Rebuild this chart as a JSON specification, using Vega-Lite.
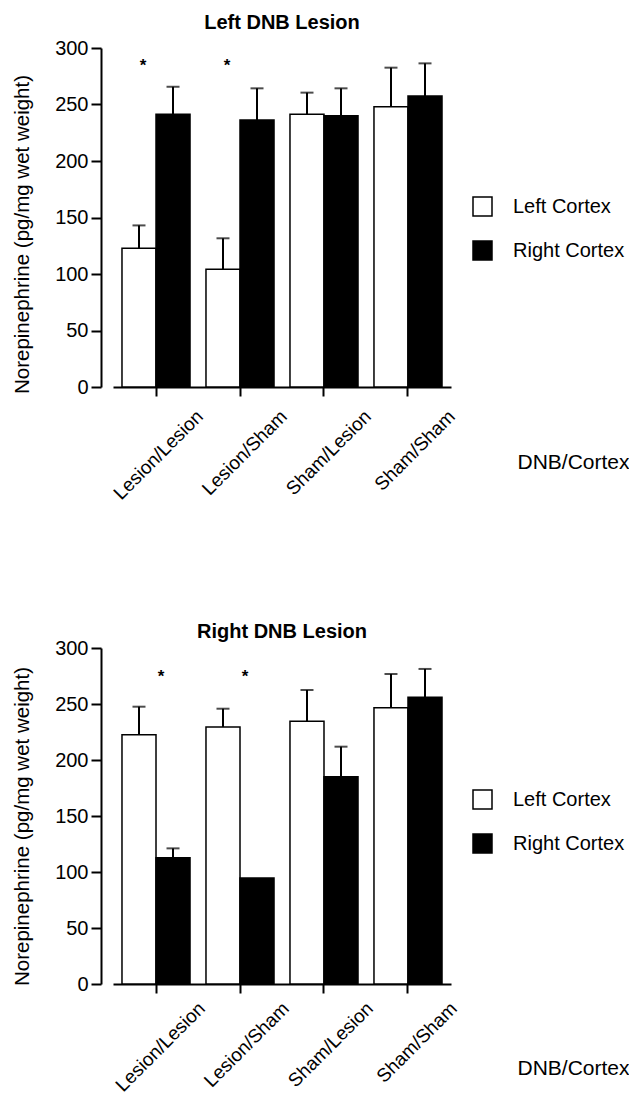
{
  "$schema": "https://vega.github.io/schema/vega-lite/v6.json",
  "padding": {"top": 13, "left": 12, "right": 0, "bottom": 0},
  "background": "white",
  "config": {
    "view": {"stroke": null},
    "font": "Liberation Sans",
    "axis": {
      "grid": false,
      "domainColor": "black",
      "domainWidth": 2,
      "tickColor": "black",
      "tickWidth": 2,
      "labelColor": "black",
      "titleColor": "black",
      "labelFont": "Liberation Sans",
      "titleFont": "Liberation Sans",
      "labelFontSize": 20,
      "titleFontSize": 20,
      "titleFontWeight": "normal"
    },
    "legend": {
      "orient": "none",
      "padding": 0,
      "labelFont": "Liberation Sans",
      "labelFontSize": 20,
      "labelColor": "black",
      "symbolType": "square",
      "symbolSize": 361,
      "symbolStrokeColor": "black",
      "symbolStrokeWidth": 1.5,
      "labelOffset": 20,
      "rowPadding": 19
    },
    "title": {
      "font": "Liberation Sans",
      "fontSize": 20,
      "fontWeight": "bold",
      "color": "black",
      "frame": "group",
      "anchor": "middle"
    }
  },
  "datasets": {
    "leftLesion": [
      {"group": "Lesion/Lesion", "cortex": "Left Cortex", "value": 122.7, "upper": 143.0},
      {"group": "Lesion/Lesion", "cortex": "Right Cortex", "value": 241.3, "upper": 265.7},
      {"group": "Lesion/Sham", "cortex": "Left Cortex", "value": 104.1, "upper": 131.6},
      {"group": "Lesion/Sham", "cortex": "Right Cortex", "value": 236.3, "upper": 264.3},
      {"group": "Sham/Lesion", "cortex": "Left Cortex", "value": 241.3, "upper": 260.5},
      {"group": "Sham/Lesion", "cortex": "Right Cortex", "value": 240.1, "upper": 264.3},
      {"group": "Sham/Sham", "cortex": "Left Cortex", "value": 248.0, "upper": 282.6},
      {"group": "Sham/Sham", "cortex": "Right Cortex", "value": 257.5, "upper": 286.4}
    ],
    "rightLesion": [
      {"group": "Lesion/Lesion", "cortex": "Left Cortex", "value": 222.6, "upper": 247.6},
      {"group": "Lesion/Lesion", "cortex": "Right Cortex", "value": 112.8, "upper": 121.1},
      {"group": "Lesion/Sham", "cortex": "Left Cortex", "value": 229.5, "upper": 245.8},
      {"group": "Lesion/Sham", "cortex": "Right Cortex", "value": 94.6, "upper": 94.6},
      {"group": "Sham/Lesion", "cortex": "Left Cortex", "value": 234.5, "upper": 262.5},
      {"group": "Sham/Lesion", "cortex": "Right Cortex", "value": 185.1, "upper": 211.9},
      {"group": "Sham/Sham", "cortex": "Left Cortex", "value": 246.7, "upper": 276.8},
      {"group": "Sham/Sham", "cortex": "Right Cortex", "value": 256.0, "upper": 281.3}
    ],
    "leftStars": [
      {"group": "Lesion/Lesion", "cortex": "Left Cortex", "value": 286.7, "label": "*"},
      {"group": "Lesion/Sham", "cortex": "Left Cortex", "value": 286.7, "label": "*"}
    ],
    "rightStars": [
      {"group": "Lesion/Lesion", "value": 278.3, "label": "*"},
      {"group": "Lesion/Sham", "value": 278.3, "label": "*"}
    ]
  },
  "resolve": {"legend": {"fill": "independent"}, "scale": {"fill": "independent"}},
  "spacing": 119,
  "vconcat": [
    {
      "title": {"text": "Left DNB Lesion", "offset": 5},
      "width": 338,
      "height": 339,
      "encoding": {
        "x": {
          "field": "group",
          "type": "nominal",
          "sort": ["Lesion/Lesion", "Lesion/Sham", "Sham/Lesion", "Sham/Sham"],
          "scale": {"paddingInner": 0.19, "paddingOuter": 0.107},
          "axis": {
            "title": "DNB/Cortex",
            "titleFontSize": 21,
            "labelFontSize": 19,
            "labelAngle": -45,
            "labelAlign": "right",
            "labelBaseline": "middle",
            "labelOffset": 44,
            "labelPadding": 17,
            "tickSize": 9,
            "titleX": 516,
            "titleY": 75,
            "titleAlign": "right",
            "titleBaseline": "middle",
            "titleAngle": 0
          }
        }
      },
      "layer": [
        {
          "data": {"name": "leftLesion"},
          "mark": {"type": "bar", "stroke": "black", "strokeWidth": 1.5},
          "encoding": {
            "xOffset": {"field": "cortex", "type": "nominal", "sort": ["Left Cortex", "Right Cortex"]},
            "y": {
              "field": "value",
              "type": "quantitative",
              "scale": {"domain": [0, 300], "nice": false},
              "axis": {
                "values": [0, 50, 100, 150, 200, 250, 300],
                "title": "Norepinephrine (pg/mg wet weight)",
                "titleFontSize": 20.5,
                "titleY": 186,
                "offset": 12,
                "tickSize": 10,
                "labelPadding": 3,
                "titlePadding": 22
              }
            },
            "fill": {
              "field": "cortex",
              "type": "nominal",
              "scale": {"domain": ["Left Cortex", "Right Cortex"], "range": ["white", "black"]},
              "legend": {"title": null, "legendX": 359, "legendY": 148}
            }
          }
        },
        {
          "data": {"name": "leftLesion"},
          "transform": [{"filter": "datum.upper > datum.value"}],
          "mark": {"type": "rule", "color": "black", "strokeWidth": 2},
          "encoding": {
            "xOffset": {"field": "cortex", "type": "nominal", "sort": ["Left Cortex", "Right Cortex"]},
            "y": {"field": "value", "type": "quantitative"},
            "y2": {"field": "upper"}
          }
        },
        {
          "data": {"name": "leftLesion"},
          "transform": [{"filter": "datum.upper > datum.value"}],
          "mark": {"type": "tick", "color": "black", "thickness": 2, "size": 13},
          "encoding": {
            "xOffset": {"field": "cortex", "type": "nominal", "sort": ["Left Cortex", "Right Cortex"]},
            "y": {"field": "upper", "type": "quantitative"}
          }
        },
        {
          "data": {"name": "leftStars"},
          "mark": {"type": "text", "fontSize": 17, "fontWeight": "bold", "color": "black", "baseline": "alphabetic", "dy": 8, "dx": 4},
          "encoding": {
            "xOffset": {"field": "cortex", "type": "nominal", "sort": ["Left Cortex", "Right Cortex"]},
            "y": {"field": "value", "type": "quantitative"},
            "text": {"field": "label"}
          }
        }
      ]
    },
    {
      "title": {"text": "Right DNB Lesion", "offset": -4},
      "width": 338,
      "height": 336,
      "encoding": {
        "x": {
          "field": "group",
          "type": "nominal",
          "sort": ["Lesion/Lesion", "Lesion/Sham", "Sham/Lesion", "Sham/Sham"],
          "scale": {"paddingInner": 0.19, "paddingOuter": 0.107},
          "axis": {
            "title": "DNB/Cortex",
            "titleFontSize": 21,
            "labelFontSize": 19,
            "labelAngle": -45,
            "labelAlign": "right",
            "labelBaseline": "middle",
            "labelOffset": 46,
            "labelPadding": 12,
            "tickSize": 9,
            "titleX": 516,
            "titleY": 84,
            "titleAlign": "right",
            "titleBaseline": "middle",
            "titleAngle": 0
          }
        }
      },
      "layer": [
        {
          "data": {"name": "rightLesion"},
          "mark": {"type": "bar", "stroke": "black", "strokeWidth": 1.5},
          "encoding": {
            "xOffset": {"field": "cortex", "type": "nominal", "sort": ["Left Cortex", "Right Cortex"]},
            "y": {
              "field": "value",
              "type": "quantitative",
              "scale": {"domain": [0, 300], "nice": false},
              "axis": {
                "values": [0, 50, 100, 150, 200, 250, 300],
                "title": "Norepinephrine (pg/mg wet weight)",
                "titleFontSize": 20.5,
                "titleY": 178,
                "offset": 12,
                "tickSize": 10,
                "labelPadding": 3,
                "titlePadding": 22
              }
            },
            "fill": {
              "field": "cortex",
              "type": "nominal",
              "scale": {"domain": ["Left Cortex", "Right Cortex"], "range": ["white", "black"]},
              "legend": {"title": null, "legendX": 359, "legendY": 141}
            }
          }
        },
        {
          "data": {"name": "rightLesion"},
          "transform": [{"filter": "datum.upper > datum.value"}],
          "mark": {"type": "rule", "color": "black", "strokeWidth": 2},
          "encoding": {
            "xOffset": {"field": "cortex", "type": "nominal", "sort": ["Left Cortex", "Right Cortex"]},
            "y": {"field": "value", "type": "quantitative"},
            "y2": {"field": "upper"}
          }
        },
        {
          "data": {"name": "rightLesion"},
          "transform": [{"filter": "datum.upper > datum.value"}],
          "mark": {"type": "tick", "color": "black", "thickness": 2, "size": 13},
          "encoding": {
            "xOffset": {"field": "cortex", "type": "nominal", "sort": ["Left Cortex", "Right Cortex"]},
            "y": {"field": "upper", "type": "quantitative"}
          }
        },
        {
          "data": {"name": "rightStars"},
          "mark": {"type": "text", "fontSize": 17, "fontWeight": "bold", "color": "black", "baseline": "alphabetic", "dy": 10, "dx": 5},
          "encoding": {
            "y": {"field": "value", "type": "quantitative"},
            "text": {"field": "label"}
          }
        }
      ]
    }
  ]
}
